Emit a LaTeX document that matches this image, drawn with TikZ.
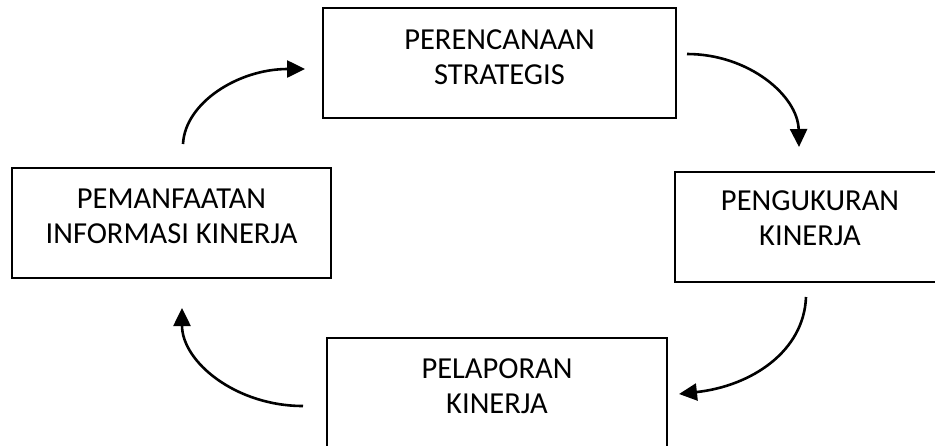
\documentclass[tikz,border=0pt]{standalone}
\usepackage{fontspec}
\setmainfont{Carlito}
\usetikzlibrary{arrows.meta}
\begin{document}
\begin{tikzpicture}[x=1pt,y=-1pt,
  box/.style={draw, line width=1.8pt, minimum height=110pt, inner sep=0pt},
  txt/.style={font=\fontsize{30.5}{35}\selectfont, align=center, inner sep=0pt},
  flow/.style={line width=2.6pt, -{Triangle[length=18pt,width=17pt]}}]
\useasboundingbox (0,0) rectangle (935,445);
\clip (0,0) rectangle (935,445);
\node[box, minimum width=353pt, label={[txt, yshift=5.5pt]center:{PERENCANAAN\\STRATEGIS}}] (plan) at (499.5,63) {};
\node[box, minimum width=270pt, label={[txt, yshift=8.5pt]center:{PENGUKURAN\\KINERJA}}] (ukur) at (810,227) {};
\node[box, minimum width=340pt, label={[txt, yshift=7pt]center:{PELAPORAN\\KINERJA}}] (lapor) at (497,393) {};
\node[box, minimum width=319pt, label={[txt, yshift=6.5pt]center:{PEMANFAATAN\\INFORMASI KINERJA}}] (manfaat) at (171.5,223) {};
\coordinate (s1) at (687,54);  \coordinate (e1) at (799,147);
\coordinate (s2) at (806,297); \coordinate (e2) at (679,394);
\coordinate (s3) at (303,406); \coordinate (e3) at (182,308);
\coordinate (s4) at (183,144); \coordinate (e4) at (305,69);
\draw[flow] (s1) .. controls (749,54) and (798,96) .. (e1);
\draw[flow] (s2) .. controls (804,351) and (752,386) .. (e2);
\draw[flow] (s3) .. controls (236,406) and (182,362) .. (e3);
\draw[flow] (s4) .. controls (185,103) and (238,69) .. (e4);
\end{tikzpicture}
\end{document}
